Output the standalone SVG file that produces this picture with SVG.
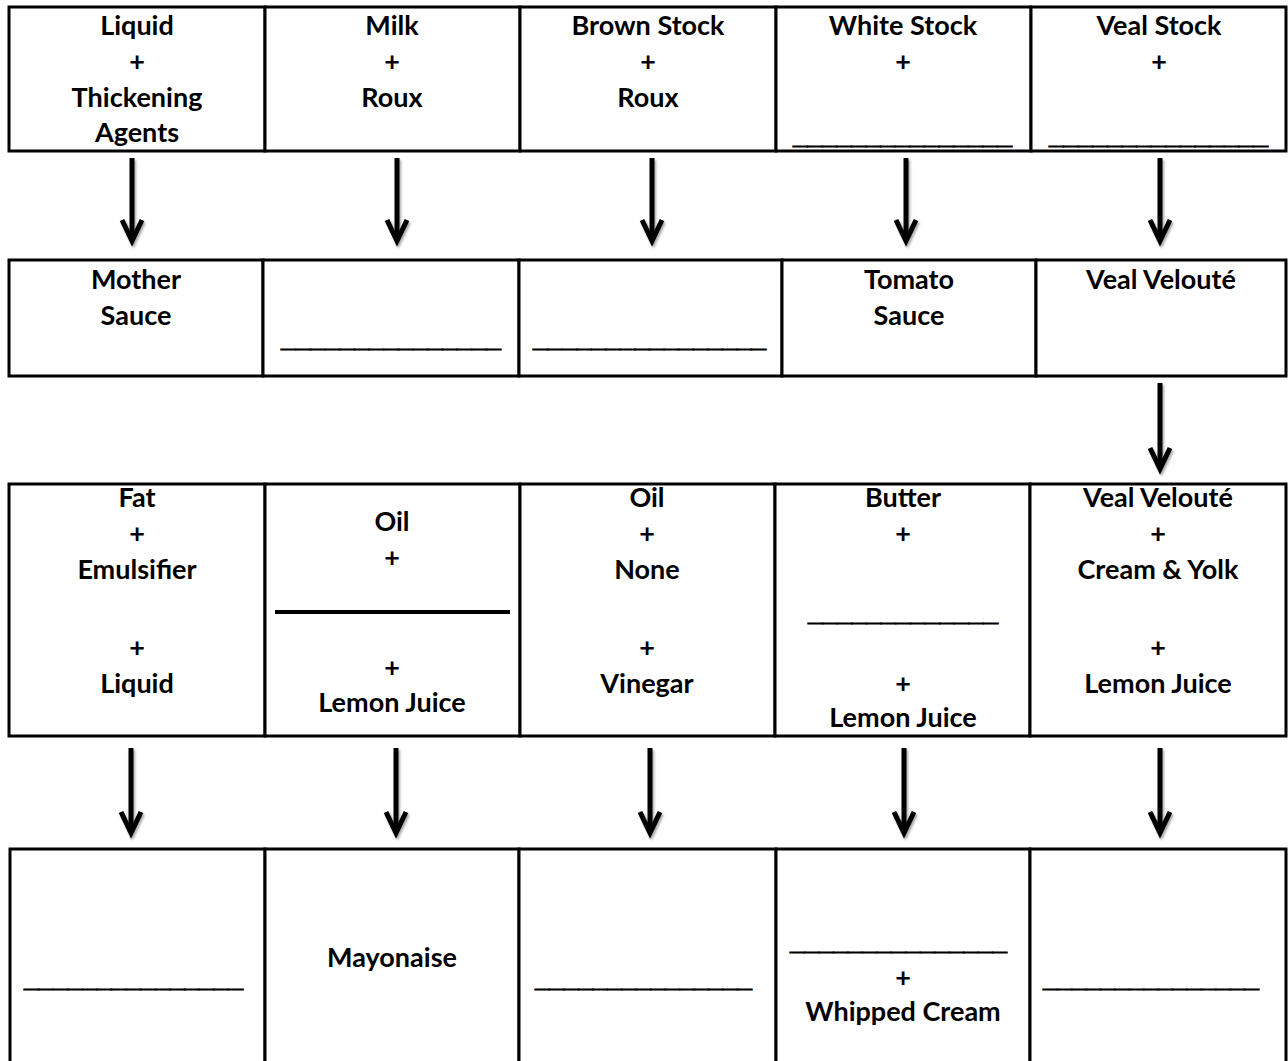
<svg xmlns="http://www.w3.org/2000/svg" width="1288" height="1061" viewBox="0 0 1288 1061">
  <style>
    .cell { fill: #ffffff; stroke: #000000; stroke-width: 3; }
    .t { font-family: Lato, "Liberation Sans", sans-serif; font-weight: bold; font-size: 27px; fill: #000000; text-anchor: middle; }
    .u { font-family: "Liberation Sans", Arial, sans-serif; font-weight: bold; font-size: 26px; fill: #000000; stroke: #000000; stroke-width: 1; }
    .arrow { stroke: #000000; stroke-width: 5; fill: none; marker-end: url(#head); }
    .bar { stroke: #000000; stroke-width: 4; }
  </style>
  <defs>
    <marker id="head" markerUnits="userSpaceOnUse" viewBox="0 0 24 30" markerWidth="24" markerHeight="30" refX="12" refY="20" orient="0" overflow="visible">
      <path d="M2,2 L12,23 L22,2" fill="none" stroke="#000000" stroke-width="5" stroke-linejoin="miter" stroke-miterlimit="10"/>
    </marker>
    <filter id="shadow" x="-50%" y="-10%" width="200%" height="130%">
      <feDropShadow dx="1.5" dy="2" stdDeviation="1.2" flood-color="#000000" flood-opacity="0.35"/>
    </filter>
  </defs>
  <rect width="1288" height="1061" fill="#ffffff"/>

  <!-- Row 1 -->
  <g id="r1c1"><rect class="cell" x="9" y="7" width="256" height="144"/>
    <text class="t" x="137" y="35">Liquid</text><text class="t" x="137" y="71">+</text>
    <text class="t" x="137" y="107">Thickening</text><text class="t" x="137" y="142">Agents</text></g>
  <g id="r1c2"><rect class="cell" x="265" y="7" width="255" height="144"/>
    <text class="t" x="392" y="35">Milk</text><text class="t" x="392" y="71">+</text>
    <text class="t" x="392" y="107">Roux</text></g>
  <g id="r1c3"><rect class="cell" x="520" y="7" width="256" height="144"/>
    <text class="t" x="648" y="35">Brown Stock</text><text class="t" x="648" y="71">+</text>
    <text class="t" x="648" y="107">Roux</text></g>
  <g id="r1c4"><rect class="cell" x="776" y="7" width="255" height="144"/>
    <text class="t" x="903" y="35">White Stock</text><text class="t" x="903" y="71">+</text>
    <text class="u" x="793" y="143.5" textLength="219" lengthAdjust="spacingAndGlyphs">_______________</text></g>
  <g id="r1c5"><rect class="cell" x="1031" y="7" width="255" height="144"/>
    <text class="t" x="1159" y="35">Veal Stock</text><text class="t" x="1159" y="71">+</text>
    <text class="u" x="1049" y="143.5" textLength="219" lengthAdjust="spacingAndGlyphs">_______________</text></g>

  <!-- Row 2 -->
  <g id="r2c1"><rect class="cell" x="9" y="260" width="254" height="116"/>
    <text class="t" x="136" y="289">Mother</text><text class="t" x="136" y="325">Sauce</text></g>
  <g id="r2c2"><rect class="cell" x="263" y="260" width="256" height="116"/>
    <text class="u" x="281" y="346.5" textLength="220" lengthAdjust="spacingAndGlyphs">_______________</text></g>
  <g id="r2c3"><rect class="cell" x="519" y="260" width="263" height="116"/>
    <text class="u" x="533" y="346.5" textLength="233" lengthAdjust="spacingAndGlyphs">________________</text></g>
  <g id="r2c4"><rect class="cell" x="782" y="260" width="254" height="116"/>
    <text class="t" x="909" y="289">Tomato</text><text class="t" x="909" y="325">Sauce</text></g>
  <g id="r2c5"><rect class="cell" x="1036" y="260" width="250" height="116"/>
    <text class="t" x="1161" y="289">Veal Velouté</text></g>

  <!-- Row 3 -->
  <g id="r3c1"><rect class="cell" x="9" y="484" width="256" height="252"/>
    <text class="t" x="137" y="507">Fat</text><text class="t" x="137" y="543">+</text>
    <text class="t" x="137" y="579">Emulsifier</text><text class="t" x="137" y="657">+</text>
    <text class="t" x="137" y="693">Liquid</text></g>
  <g id="r3c2"><rect class="cell" x="265" y="484" width="255" height="252"/>
    <text class="t" x="392" y="531">Oil</text><text class="t" x="392" y="567">+</text>
    <line class="bar" x1="275" y1="612" x2="510" y2="612"/>
    <text class="t" x="392" y="677">+</text><text class="t" x="392" y="712">Lemon Juice</text></g>
  <g id="r3c3"><rect class="cell" x="520" y="484" width="255" height="252"/>
    <text class="t" x="647" y="507">Oil</text><text class="t" x="647" y="543">+</text>
    <text class="t" x="647" y="579">None</text><text class="t" x="647" y="657">+</text>
    <text class="t" x="647" y="693">Vinegar</text></g>
  <g id="r3c4"><rect class="cell" x="775" y="484" width="255" height="252"/>
    <text class="t" x="903" y="507">Butter</text><text class="t" x="903" y="543">+</text>
    <text class="u" x="808" y="620.5" textLength="190" lengthAdjust="spacingAndGlyphs">_____________</text>
    <text class="t" x="903" y="693">+</text><text class="t" x="903" y="727">Lemon Juice</text></g>
  <g id="r3c5"><rect class="cell" x="1030" y="484" width="256" height="252"/>
    <text class="t" x="1158" y="507">Veal Velouté</text><text class="t" x="1158" y="543">+</text>
    <text class="t" x="1158" y="579">Cream &amp; Yolk</text><text class="t" x="1158" y="657">+</text>
    <text class="t" x="1158" y="693">Lemon Juice</text></g>

  <!-- Row 4 -->
  <g id="r4c1"><rect class="cell" x="10" y="849" width="255" height="220"/>
    <text class="u" x="24" y="986.5" textLength="219" lengthAdjust="spacingAndGlyphs">_______________</text></g>
  <g id="r4c2"><rect class="cell" x="265" y="849" width="254" height="220"/>
    <text class="t" x="392" y="967">Mayonaise</text></g>
  <g id="r4c3"><rect class="cell" x="519" y="849" width="257" height="220"/>
    <text class="u" x="535" y="986.5" textLength="217" lengthAdjust="spacingAndGlyphs">_______________</text></g>
  <g id="r4c4"><rect class="cell" x="776" y="849" width="254" height="220"/>
    <text class="u" x="790" y="949.5" textLength="217" lengthAdjust="spacingAndGlyphs">_______________</text>
    <text class="t" x="903" y="987">+</text><text class="t" x="903" y="1021">Whipped Cream</text></g>
  <g id="r4c5"><rect class="cell" x="1030" y="849" width="256" height="220"/>
    <text class="u" x="1043" y="986.5" textLength="216" lengthAdjust="spacingAndGlyphs">_______________</text></g>

  <!-- Connectors -->
  <g id="connectors" filter="url(#shadow)">
    <path class="arrow" d="M132,158 V238"/>
    <path class="arrow" d="M397,158 V238"/>
    <path class="arrow" d="M652,158 V238"/>
    <path class="arrow" d="M906,158 V238"/>
    <path class="arrow" d="M1160,158 V238"/>
    <path class="arrow" d="M1160,383 V466"/>
    <path class="arrow" d="M131,748 V830"/>
    <path class="arrow" d="M396,748 V830"/>
    <path class="arrow" d="M650,748 V830"/>
    <path class="arrow" d="M904,748 V830"/>
    <path class="arrow" d="M1160,748 V830"/>
  </g>
</svg>
